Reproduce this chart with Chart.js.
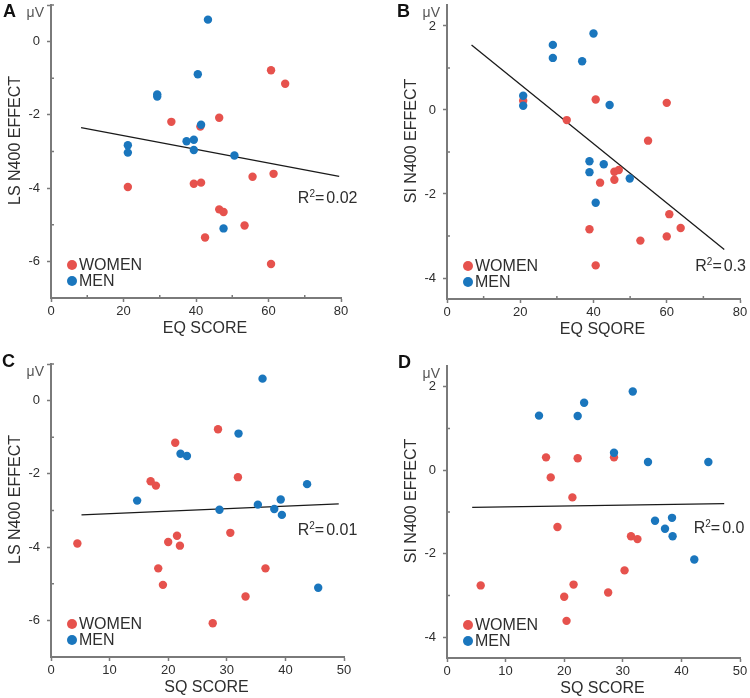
<!DOCTYPE html>
<html>
<head>
<meta charset="utf-8">
<script src="https://cdn.jsdelivr.net/npm/chart.js@4.4.0/dist/chart.umd.min.js"></script>
<style>
  body { margin: 0; background: #fff; }
  #wrap { position: relative; width: 750px; height: 698px; }
  .panel { position: absolute; }
</style>
</head>
<body>
<div id="wrap">
  <div class="panel" style="left:0;top:0"><canvas id="chartA" width="375" height="340"></canvas></div>
  <div class="panel" style="left:375px;top:0"><canvas id="chartB" width="375" height="340"></canvas></div>
  <div class="panel" style="left:0;top:340px"><canvas id="chartC" width="375" height="358"></canvas></div>
  <div class="panel" style="left:375px;top:340px"><canvas id="chartD" width="375" height="358"></canvas></div>
</div>
<script>
// --- Panel A: LS N400 effect vs EQ score ---
const aWomenX = [60.7, 64.6, 46.4, 33.2, 41.2, 61.4, 55.6, 39.4, 41.4, 21.2, 46.4, 47.6, 53.4, 42.5, 60.7];
const aWomenY = [-0.78, -1.15, -2.08, -2.19, -2.32, -3.61, -3.69, -3.88, -3.85, -3.97, -4.58, -4.65, -5.02, -5.35, -6.07];
const aMenX = [43.3, 40.5, 29.3, 29.3, 41.4, 37.4, 39.4, 39.4, 21.2, 21.2, 50.6, 47.6];
const aMenY = [0.6, -0.89, -1.44, -1.5, -2.27, -2.72, -2.68, -2.96, -2.83, -3.03, -3.11, -5.1];
const aFitX = [8.3, 79.5];
const aFitY = [-2.35, -3.68];

// --- Panel B: SI N400 effect vs EQ score ---
const bWomenX = [20.8, 40.6, 60.0, 32.7, 54.9, 45.7, 46.9, 45.7, 41.8, 60.7, 63.8, 60.0, 52.8, 38.9, 40.6];
const bWomenY = [0.22, 0.25, 0.17, -0.24, -0.73, -1.47, -1.43, -1.66, -1.73, -2.48, -2.81, -3.01, -3.11, -2.84, -3.7];
const bMenX = [40.0, 28.9, 28.9, 36.9, 20.8, 20.8, 44.4, 38.9, 42.8, 38.9, 49.9, 40.6];
const bMenY = [1.82, 1.55, 1.24, 1.16, 0.34, 0.1, 0.12, -1.22, -1.29, -1.48, -1.63, -2.21];
const bFitX = [6.7, 75.7];
const bFitY = [1.55, -3.32];

// --- Panel C: LS N400 effect vs SQ score ---
const cWomenX = [28.5, 21.2, 17.0, 17.9, 31.9, 30.6, 21.5, 20.0, 22.0, 4.5, 18.3, 36.6, 19.1, 33.2, 27.6];
const cWomenY = [-0.78, -1.15, -2.2, -2.32, -2.09, -3.61, -3.69, -3.86, -3.96, -3.9, -4.58, -4.58, -5.03, -5.35, -6.08];
const cMenX = [36.1, 32.0, 22.1, 23.2, 43.7, 14.7, 39.2, 35.3, 38.1, 28.75, 39.4, 45.6];
const cMenY = [0.6, -0.9, -1.45, -1.51, -2.28, -2.73, -2.7, -2.84, -2.96, -2.98, -3.12, -5.11];
const cFitX = [5.2, 49.1];
const cFitY = [-3.12, -2.82];

// --- Panel D: SI N400 effect vs SQ score ---
const dWomenX = [16.9, 22.3, 28.5, 17.7, 21.4, 18.85, 31.4, 32.5, 30.3, 21.6, 5.75, 20.0, 27.5, 20.4];
const dWomenY = [0.31, 0.29, 0.31, -0.17, -0.65, -1.36, -1.58, -1.65, -2.4, -2.74, -2.76, -3.03, -2.93, -3.61];
const dMenX = [31.7, 23.4, 15.7, 22.3, 28.5, 34.3, 44.6, 35.5, 38.4, 37.2, 38.5, 42.2];
const dMenY = [1.89, 1.62, 1.31, 1.3, 0.42, 0.2, 0.2, -1.21, -1.14, -1.4, -1.58, -2.14];
const dFitX = [4.3, 47.3];
const dFitY = [-0.89, -0.8];

// axis ticks
const eqTicks = [0, 10, 20, 30, 40, 50, 60, 70, 80];
const eqLabels = [0, 20, 40, 60, 80];
const sqTicks = [0, 10, 20, 30, 40, 50];
const sqLabels = [0, 10, 20, 30, 40, 50];
const lsTicks = [1, 0, -1, -2, -3, -4, -5, -6, -7];
const lsLabels = [0, -2, -4, -6];
const siTicks = [2, 1, 0, -1, -2, -3, -4];
const siLabels = [2, 0, -2, -4];

const RED = '#e6524d';
const BLUE = '#1a76bd';
const AXIS = '#7a7a7a';
const TXT = '#2e2e2e';
const FONT = '"Liberation Sans", Arial, sans-serif';

Chart.defaults.font.family = FONT;

const toPoints = (xs, ys) => xs.map((x, i) => ({ x: x, y: ys[i] }));

// draws minor ticks (inward), panel letter, unit, axis titles, legend and R² text
const annotations = {
  id: 'annotations',
  afterDraw(chart, args, opts) {
    const ctx = chart.ctx;
    const area = chart.chartArea;
    const xs = chart.scales.x;
    const ys = chart.scales.y;
    ctx.save();

    // minor ticks pointing into the plot
    ctx.strokeStyle = AXIS;
    ctx.lineWidth = 1.5;
    ctx.beginPath();
    xs.ticks.forEach(t => {
      if (opts.xLabels.includes(t.value)) return;
      const px = xs.getPixelForValue(t.value);
      ctx.moveTo(px, area.bottom);
      ctx.lineTo(px, area.bottom - 3);
    });
    ys.ticks.forEach(t => {
      if (opts.yLabels.includes(t.value)) return;
      const py = ys.getPixelForValue(t.value);
      ctx.moveTo(area.left, py);
      ctx.lineTo(area.left + 3, py);
    });
    ctx.stroke();

    // panel letter
    ctx.fillStyle = '#111';
    ctx.font = 'bold 18px ' + FONT;
    ctx.textAlign = 'left';
    ctx.textBaseline = 'middle';
    ctx.fillText(opts.letter, opts.letterX, opts.letterY);

    // unit
    ctx.fillStyle = '#555';
    ctx.font = '14px ' + FONT;
    ctx.textAlign = 'right';
    ctx.fillText('\u03bcV', area.left - 7, area.top + 8);

    // axis titles
    ctx.fillStyle = TXT;
    ctx.font = '16px ' + FONT;
    ctx.textAlign = 'center';
    ctx.fillText(opts.xTitle, (area.left + area.right) / 2 + 9, area.bottom + 31);
    ctx.save();
    ctx.translate(area.left - 35.5, (area.top + area.bottom) / 2 - 11);
    ctx.rotate(-Math.PI / 2);
    ctx.fillText(opts.yTitle, 0, 0);
    ctx.restore();

    // legend
    const legend = [['WOMEN', RED, 33], ['MEN', BLUE, 17]];
    legend.forEach(([label, color, dy]) => {
      const cx = area.left + 21;
      const cy = area.bottom - dy;
      ctx.fillStyle = color;
      ctx.beginPath();
      ctx.arc(cx, cy, 5, 0, Math.PI * 2);
      ctx.fill();
      ctx.fillStyle = TXT;
      ctx.font = '16px ' + FONT;
      ctx.textAlign = 'left';
      ctx.fillText(label, cx + 7, cy + 1);
    });

    // R squared
    let rx = xs.getPixelForValue(opts.r2x);
    const ry = ys.getPixelForValue(opts.r2y);
    ctx.textBaseline = 'alphabetic';
    ctx.textAlign = 'left';
    ctx.font = '16px ' + FONT;
    ctx.fillText('R', rx, ry);
    rx += ctx.measureText('R').width;
    ctx.font = '10px ' + FONT;
    ctx.fillText('2', rx, ry - 6);
    rx += ctx.measureText('2').width;
    ctx.font = '16px ' + FONT;
    ctx.fillText('=', rx, ry);
    rx += ctx.measureText('=').width + 2;
    ctx.fillText(opts.r2, rx, ry);

    ctx.restore();
  }
};

function makePanel(id, p) {
  p.ann.xLabels = p.xLabels;
  p.ann.yLabels = p.yLabels;
  new Chart(document.getElementById(id), {
    type: 'scatter',
    data: {
      datasets: [
        { label: 'WOMEN', data: toPoints(p.wx, p.wy), backgroundColor: RED, borderWidth: 0,
          pointRadius: 4.2, pointHoverRadius: 4.2, order: 2 },
        { label: 'MEN', data: toPoints(p.mx, p.my), backgroundColor: BLUE, borderWidth: 0,
          pointRadius: 4.2, pointHoverRadius: 4.2, order: 1 },
        { label: 'fit', data: toPoints(p.fx, p.fy), showLine: true, borderColor: '#1a1a1a',
          borderWidth: 1.3, pointRadius: 0, fill: false, order: 3 }
      ]
    },
    options: {
      responsive: false,
      animation: false,
      events: [],
      layout: { padding: { left: 0, right: p.padR, top: p.padT, bottom: 0 } },
      plugins: {
        legend: { display: false },
        tooltip: { enabled: false },
        annotations: p.ann
      },
      scales: {
        x: {
          type: 'linear',
          min: 0,
          max: p.xTicks[p.xTicks.length - 1],
          afterBuildTicks: s => { s.ticks = p.xTicks.map(v => ({ value: v })); },
          afterFit: s => { s.height = p.xH; s.paddingLeft = 0; s.paddingRight = 0; },
          border: { color: AXIS, width: 2 },
          grid: { drawOnChartArea: false, tickLength: 4, tickWidth: 1.5,
                  tickColor: c => p.xLabels.includes(c.tick.value) ? AXIS : 'rgba(0,0,0,0)' },
          ticks: { color: TXT, font: { size: 13 }, padding: 2, maxRotation: 0,
                   callback: v => p.xLabels.includes(v) ? String(v) : '' }
        },
        y: {
          type: 'linear',
          min: p.yMin,
          max: p.yMax,
          afterBuildTicks: s => { s.ticks = p.yTicks.map(v => ({ value: v })); },
          afterFit: s => { s.width = p.yW; s.paddingTop = 0; s.paddingBottom = 0; },
          border: { color: AXIS, width: 2 },
          grid: { drawOnChartArea: false, tickLength: 4, tickWidth: 1.5,
                  tickColor: c => p.yLabels.includes(c.tick.value) || c.tick.value === p.yMax ? AXIS : 'rgba(0,0,0,0)' },
          ticks: { color: TXT, font: { size: 13 }, padding: 7,
                   callback: v => p.yLabels.includes(v) ? String(v) : '' }
        }
      }
    },
    plugins: [annotations]
  });
}

makePanel('chartA', {
  wx: aWomenX, wy: aWomenY, mx: aMenX, my: aMenY, fx: aFitX, fy: aFitY,
  xTicks: eqTicks, xLabels: eqLabels, yTicks: lsTicks, yLabels: lsLabels, yMin: -7, yMax: 1,
  padR: 34, padT: 5, xH: 42, yW: 51,
  ann: { letter: 'A', letterX: 3, letterY: 12, xTitle: 'EQ SCORE', yTitle: 'LS N400 EFFECT',
         r2: '0.02', r2x: 68.1, r2y: -4.41 }
});

makePanel('chartB', {
  wx: bWomenX, wy: bWomenY, mx: bMenX, my: bMenY, fx: bFitX, fy: bFitY,
  xTicks: eqTicks, xLabels: eqLabels, yTicks: siTicks, yLabels: siLabels, yMin: -4.5, yMax: 2.5,
  padR: 10, padT: 5, xH: 41, yW: 72,
  ann: { letter: 'B', letterX: 22, letterY: 12, xTitle: 'EQ SQORE', yTitle: 'SI N400 EFFECT',
         r2: '0.3', r2x: 67.8, r2y: -3.83 }
});

makePanel('chartC', {
  wx: cWomenX, wy: cWomenY, mx: cMenX, my: cMenY, fx: cFitX, fy: cFitY,
  xTicks: sqTicks, xLabels: sqLabels, yTicks: lsTicks, yLabels: lsLabels, yMin: -7, yMax: 1,
  padR: 31, padT: 24, xH: 41, yW: 51,
  ann: { letter: 'C', letterX: 2, letterY: 22, xTitle: 'SQ SCORE', yTitle: 'LS N400 EFFECT',
         r2: '0.01', r2x: 42.1, r2y: -3.66 }
});

makePanel('chartD', {
  wx: dWomenX, wy: dWomenY, mx: dMenX, my: dMenY, fx: dFitX, fy: dFitY,
  xTicks: sqTicks, xLabels: sqLabels, yTicks: siTicks, yLabels: siLabels, yMin: -4.5, yMax: 2.5,
  padR: 10, padT: 26, xH: 40, yW: 72,
  ann: { letter: 'D', letterX: 23, letterY: 23, xTitle: 'SQ SCORE', yTitle: 'SI N400 EFFECT',
         r2: '0.0', r2x: 42.1, r2y: -1.51 }
});
</script>
</body>
</html>
